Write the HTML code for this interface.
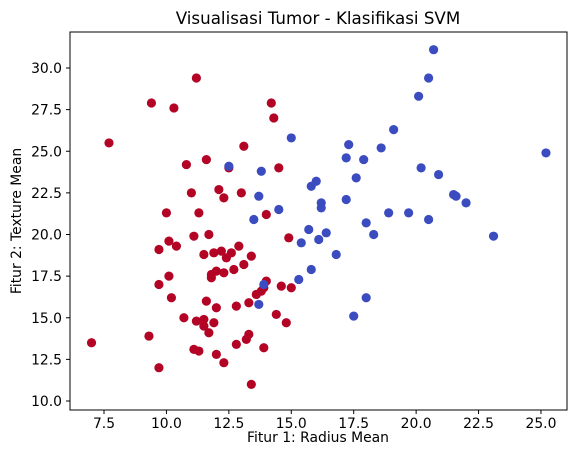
<!DOCTYPE html>
<html><head><meta charset="utf-8"><style>
body{margin:0;background:#fff;}
svg text{font-family:"DejaVu Sans","Liberation Sans",sans-serif;fill:#000;}
</style></head><body>
<svg id="chart" width="576" height="455">
<text x="318" y="24" font-size="16.7" text-anchor="middle">Visualisasi Tumor - Klasifikasi SVM</text>
<g id="marks"></g>
<rect x="70" y="32" width="497" height="378" fill="none" stroke="#000" stroke-width="1"/>
<g id="axes"></g>
<text x="318" y="442" font-size="13.9" text-anchor="middle">Fitur 1: Radius Mean</text>
<text transform="translate(21,221) rotate(-90)" font-size="13.9" text-anchor="middle">Fitur 2: Texture Mean</text>
</svg>
<script>
const redX=[7.0,7.7,9.3,9.4,9.7,9.7,9.7,10.0,10.1,10.1,10.2,10.3,10.4,10.7,10.8,11.0,11.1,11.1,11.2,11.2,11.3,11.3,11.5,11.5,11.5,11.6,11.6,11.7,11.7,11.8,11.8,11.9,11.9,12.0,12.0,12.0,12.1,12.2,12.3,12.3,12.3,12.4,12.5,12.6,12.7,12.8,12.8,12.9,13.0,13.1,13.1,13.2,13.3,13.3,13.4,13.4,13.6,13.8,13.9,13.9,14.0,14.0,14.2,14.3,14.4,14.5,14.6,14.8,14.9,15.0];
const redY=[13.5,25.5,13.9,27.9,12.0,19.1,17.0,21.3,19.6,17.5,16.2,27.6,19.3,15.0,24.2,22.5,13.1,19.9,29.4,14.8,13.0,21.3,18.8,14.9,14.5,24.5,16.0,20.0,14.1,17.6,17.4,14.7,18.9,15.6,17.8,12.8,22.7,19.0,12.3,22.2,17.7,18.6,24.0,18.9,17.9,13.4,15.7,19.3,22.5,25.3,18.2,13.7,15.9,14.0,18.7,11.0,16.4,16.6,13.2,16.8,17.2,21.2,27.9,27.0,15.2,24.0,16.9,14.7,19.8,16.8];
const blueX=[12.5,13.5,13.7,13.7,13.8,13.9,14.5,15.0,15.3,15.4,15.7,15.8,15.8,16.0,16.1,16.2,16.2,16.4,16.8,17.2,17.3,17.2,17.5,17.6,17.9,18.0,18.0,18.3,18.6,18.9,19.1,19.7,20.1,20.2,20.5,20.5,20.7,20.9,21.5,21.6,22.0,23.1,25.2];
const blueY=[24.1,20.9,22.3,15.8,23.8,17.0,21.5,25.8,17.3,19.5,20.3,22.9,17.9,23.2,19.7,21.6,21.9,20.1,18.8,24.6,25.4,22.1,15.1,23.4,24.5,20.7,16.2,20.0,25.2,21.3,26.3,21.3,28.3,24.0,20.9,29.4,31.1,23.6,22.4,22.3,21.9,19.9,24.9];
const xTicks=[7.5,10.0,12.5,15.0,17.5,20.0,22.5,25.0];
const yTicks=[10.0,12.5,15.0,17.5,20.0,22.5,25.0,27.5,30.0];
const NS="http://www.w3.org/2000/svg";
function sx(v){return 104+(v-7.5)*24.97;}
function sy(v){return 401-(v-10)*16.65;}
const marks=document.getElementById('marks');
function dots(xs,ys,col,nm){
  for(let i=0;i<xs.length;i++){
    const c=document.createElementNS(NS,'circle');
    c.setAttribute('cx',sx(xs[i]));c.setAttribute('cy',sy(ys[i]));c.setAttribute('r',4.6);c.setAttribute('fill',col);
    
    
    marks.appendChild(c);
  }
}
dots(redX,redY,'#b40426','point-red');
dots(blueX,blueY,'#3b4cc0','point-blue');
const axes=document.getElementById('axes');
xTicks.forEach(t=>{
  const x=sx(t);
  const l=document.createElementNS(NS,'line');
  l.setAttribute('x1',x);l.setAttribute('x2',x);l.setAttribute('y1',410);l.setAttribute('y2',414);l.setAttribute('stroke','#000');
  
  
  axes.appendChild(l);
  const s=document.createElementNS(NS,'text');
  s.setAttribute('x',x);s.setAttribute('y',428);s.setAttribute('font-size','13.9');s.setAttribute('text-anchor','middle');
  s.textContent=t.toFixed(1);
  
  
  axes.appendChild(s);
});
yTicks.forEach(t=>{
  const y=sy(t);
  const l=document.createElementNS(NS,'line');
  l.setAttribute('x1',66);l.setAttribute('x2',70);l.setAttribute('y1',y);l.setAttribute('y2',y);l.setAttribute('stroke','#000');
  
  
  axes.appendChild(l);
  const s=document.createElementNS(NS,'text');
  s.setAttribute('x',62);s.setAttribute('y',y+5);s.setAttribute('font-size','13.9');s.setAttribute('text-anchor','end');
  s.textContent=t.toFixed(1);
  
  
  axes.appendChild(s);
});
</script>
</body></html>
